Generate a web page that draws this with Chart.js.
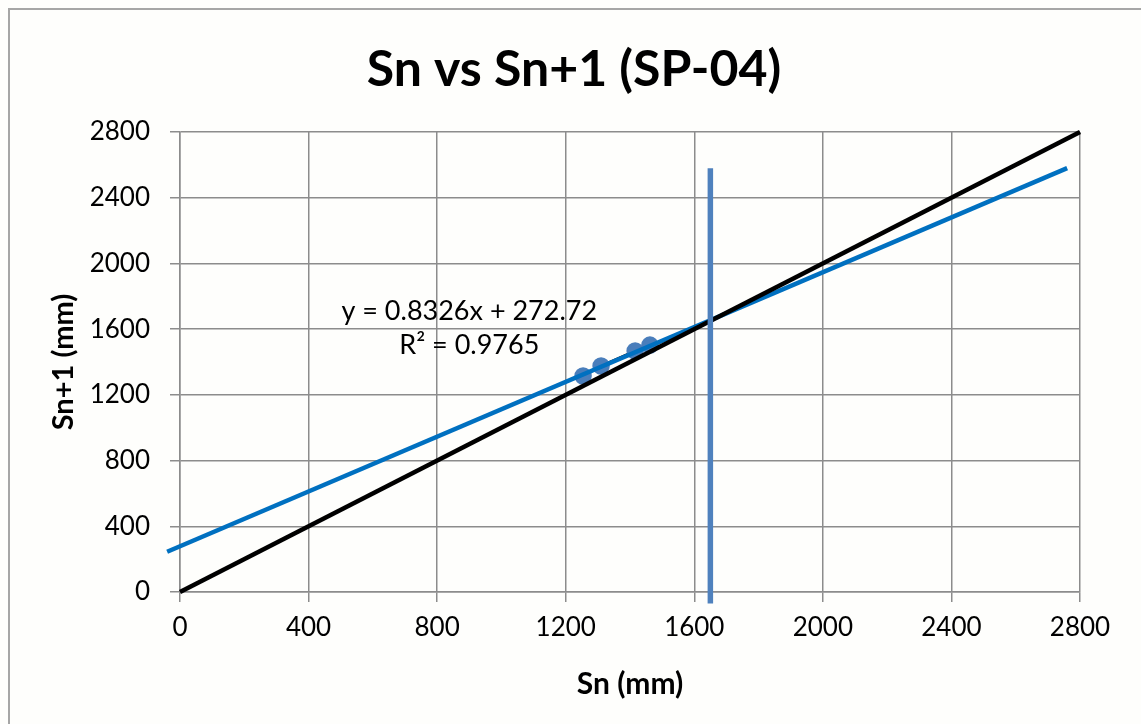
<!DOCTYPE html>
<html>
<head>
<meta charset="utf-8">
<title>Sn vs Sn+1 (SP-04)</title>
<script src="https://cdn.jsdelivr.net/npm/chart.js@4.4.0/dist/chart.umd.min.js"></script>
<style>
    html, body { margin: 0; padding: 0; background: #ffffff; }
    #wrap { position: relative; width: 1141px; height: 724px; overflow: hidden; background: #fefefc; }
    #frame { position: absolute; left: 8px; top: 8px; width: 1200px; height: 800px; border: 2px solid #a6a6a6; box-sizing: border-box; }
    #chart { position: absolute; left: 0; top: 0; }
</style>
</head>
<body>
<div id="wrap">
    <div id="frame"></div>
    <canvas id="chart" width="1141" height="724"></canvas>
</div>
<script>
// Datos
const snValues = [1254, 1310, 1416, 1462];      // Sn (mm)
const sn1Values = [1315, 1376, 1467, 1503];     // Sn+1 (mm)
const equalX = [0, 2800];                        // línea Sn = Sn+1
const equalY = [0, 2800];
const trendX = [-40, 2760];                      // línea de tendencia
const trendY = [245, 2580];
const limitX = [1650, 1650];                     // línea vertical
const limitY = [-70, 2580];
const axisTicks = [0, 400, 800, 1200, 1600, 2000, 2400, 2800];
const eqLines = ['y = 0.8326x + 272.72', 'R\u00B2 = 0.9765'];
const eqPosX = [900, 900];
const eqPosY = [1710, 1500];

const FONT = "Lato, 'Open Sans', sans-serif";
const gridColor = '#8c8c8c';

function toPoints(xs, ys) {
    return xs.map((x, i) => ({ x: x, y: ys[i] }));
}

// Texto de la ecuación de tendencia
const equationLabel = {
    id: 'equationLabel',
    afterDatasetsDraw(chart) {
        const { ctx, scales } = chart;
        ctx.save();
        ctx.font = '27px ' + FONT;
        ctx.fillStyle = '#000000';
        ctx.textAlign = 'center';
        ctx.textBaseline = 'middle';
        eqLines.forEach((txt, i) => {
            ctx.fillText(txt, scales.x.getPixelForValue(eqPosX[i]), scales.y.getPixelForValue(eqPosY[i]));
        });
        ctx.restore();
    }
};

const axisCommon = {
    type: 'linear',
    min: 0,
    max: 2800,
    afterBuildTicks: (scale) => { scale.ticks = axisTicks.map(v => ({ value: v })); },
    grid: { color: gridColor, lineWidth: 1.5, tickLength: 10, drawTicks: true, tickColor: gridColor },
    border: { color: gridColor, width: 1.5 }
};

const tickFont = { family: FONT, size: 26 };
const plainLabel = (v) => String(v);

new Chart(document.getElementById('chart'), {
    type: 'scatter',
    data: {
        datasets: [
            {
                label: 'limite',
                data: toPoints(limitX, limitY),
                showLine: true,
                borderColor: '#4f81bd',
                borderWidth: 5.5,
                pointRadius: 0,
                clip: false,
                order: 0
            },
            {
                label: 'Sn = Sn+1',
                data: toPoints(equalX, equalY),
                showLine: true,
                borderColor: '#000000',
                borderWidth: 4.5,
                pointRadius: 0,
                clip: false,
                order: 1
            },
            {
                label: 'tendencia',
                data: toPoints(trendX, trendY),
                showLine: true,
                borderColor: '#0070c0',
                borderWidth: 4.5,
                pointRadius: 0,
                clip: false,
                order: 2
            },
            {
                label: 'Sn vs Sn+1',
                data: toPoints(snValues, sn1Values),
                showLine: true,
                borderColor: '#000000',
                borderWidth: 2.5,
                pointRadius: 7.5,
                pointBackgroundColor: '#4a7ebb',
                pointBorderColor: '#4a7ebb',
                order: 3
            }
        ]
    },
    options: {
        responsive: false,
        animation: false,
        layout: { padding: { left: 7, right: 0, top: 0, bottom: 0 } },
        plugins: {
            legend: { display: false },
            tooltip: { enabled: false },
            title: {
                display: true,
                text: 'Sn vs Sn+1 (SP-04)',
                color: '#000000',
                font: { family: FONT, size: 50, weight: 'bold', lineHeight: 1.2 },
                padding: { top: 40, bottom: 32 }
            }
        },
        scales: {
            x: {
                ...axisCommon,
                position: 'bottom',
                afterFit: (scale) => { scale.height = 132; },
                ticks: { color: '#000000', font: tickFont, padding: 10, maxRotation: 0, callback: plainLabel },
                title: {
                    display: true,
                    text: 'Sn (mm)',
                    color: '#000000',
                    font: { family: FONT, size: 30, weight: 'bold', lineHeight: 1.2 },
                    padding: { top: 0, bottom: 22 }
                }
            },
            y: {
                ...axisCommon,
                position: 'left',
                afterFit: (scale) => { scale.width = 173; },
                ticks: { color: '#000000', font: tickFont, padding: 20, callback: plainLabel },
                title: {
                    display: true,
                    text: 'Sn+1 (mm)',
                    color: '#000000',
                    font: { family: FONT, size: 29, weight: 'bold', lineHeight: 1.2 },
                    padding: { top: 39.6, bottom: 0 }
                }
            },
            // margen derecho vacío para que el título quede centrado en la página
            yRight: {
                type: 'linear',
                position: 'right',
                afterFit: (scale) => { scale.width = 61; },
                grid: { display: false, drawTicks: false },
                ticks: { display: false },
                border: { display: false }
            }
        }
    },
    plugins: [equationLabel]
});
</script>
</body>
</html>
